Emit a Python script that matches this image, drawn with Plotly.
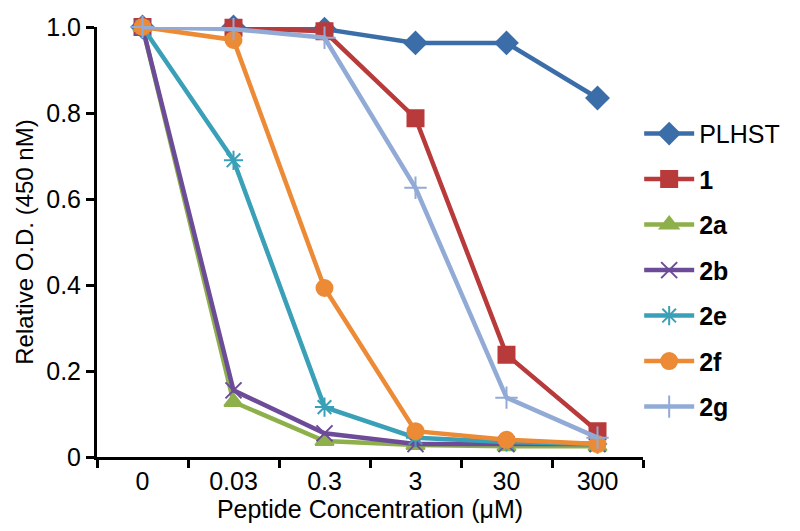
import plotly.graph_objects as go

categories = ["0", "0.03", "0.3", "3", "30", "300"]
series_names = ["PLHST", "<b>1</b>", "<b>2a</b>", "<b>2b</b>", "<b>2e</b>", "<b>2f</b>", "<b>2g</b>"]
plhst = [1.0, 1.0, 0.995, 0.963, 0.963, 0.835]
s1 = [1.0, 0.998, 0.99, 0.788, 0.238, 0.06]
s2a = [1.0, 0.128, 0.037, 0.028, 0.025, 0.025]
s2b = [1.0, 0.155, 0.055, 0.03, 0.03, 0.03]
s2e = [1.0, 0.69, 0.116, 0.045, 0.035, 0.03]
s2f = [1.0, 0.97, 0.393, 0.06, 0.04, 0.03]
s2g = [1.0, 0.995, 0.975, 0.626, 0.138, 0.045]
y_ticks = [0, 0.2, 0.4, 0.6, 0.8, 1.0]
y_tick_labels = ["0", "0.2", "0.4", "0.6", "0.8", "1.0"]

values = [plhst, s1, s2a, s2b, s2e, s2f, s2g]
colors = ["#3b6ea8", "#b93a3a", "#8db04a", "#6c4b98", "#3aa0b8", "#ec8a35", "#91abd6"]
symbols = ["diamond", "square", "triangle-up", "x-thin-open", "asterisk-open", "circle", "cross-thin-open"]
sizes = [17, 16, 16, 16, 16, 16, 16]

fig = go.Figure()
for i, (name, vals) in enumerate(zip(series_names, values)):
    fig.add_trace(go.Scatter(
        x=categories, y=vals, name=name, mode="lines+markers",
        legendgroup=f"g{i}",
        line=dict(color=colors[i], width=4.5),
        marker=dict(symbol=symbols[i], size=sizes[i], color=colors[i],
                    line=dict(color=colors[i], width=2)),
        cliponaxis=False,
    ))

fig.update_layout(
    width=800, height=531,
    margin=dict(l=89, r=165, t=19, b=82),
    plot_bgcolor="white", paper_bgcolor="white",
    font=dict(family="Liberation Sans, Arial, sans-serif", size=25, color="black"),
    legend=dict(x=0.993, y=0.805, xanchor="left", yanchor="top",
                traceorder="grouped", tracegroupgap=10,
                font=dict(size=25), itemwidth=50, bgcolor="rgba(0,0,0,0)"),
    xaxis=dict(type="category", range=[-0.5, 5.5], tickson="boundaries",
               showline=True, linecolor="black", linewidth=3,
               ticks="outside", ticklen=8, tickwidth=3, tickcolor="black",
               showgrid=False, zeroline=False, automargin=False,
               tickfont=dict(size=25),
               title=dict(text="Peptide Concentration (μM)", font=dict(size=25), standoff=2)),
    yaxis=dict(range=[0, 1.0], tickvals=y_ticks, ticktext=y_tick_labels,
               showline=True, linecolor="black", linewidth=3,
               ticks="outside", ticklen=8, tickwidth=3, tickcolor="black",
               showgrid=False, zeroline=False, automargin=False,
               tickfont=dict(size=25),
               title=dict(text="Relative O.D. (450 nM)", font=dict(size=24), standoff=6)),
)

fig.write_html("out.html")
